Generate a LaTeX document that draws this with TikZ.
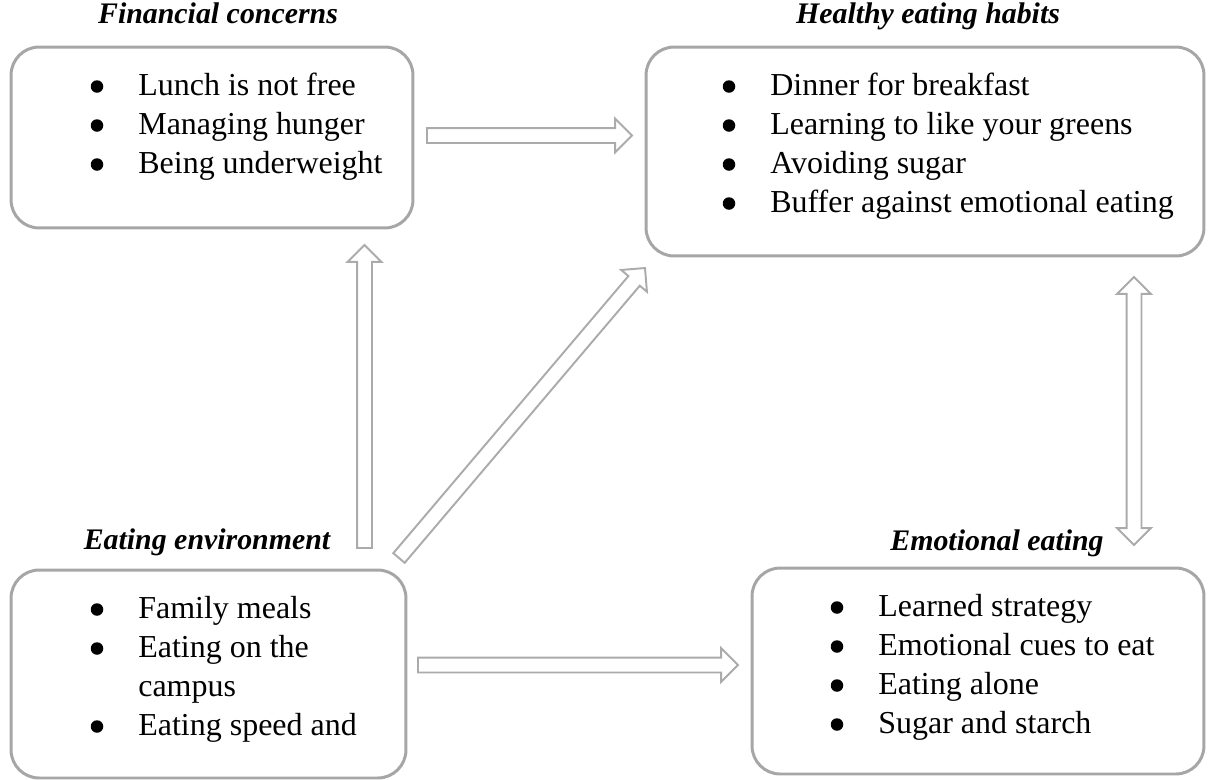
\documentclass[tikz,border=0pt]{standalone}
\usepackage{fontspec}
\setmainfont{Liberation Serif}
\usetikzlibrary{calc}

\definecolor{boxgray}{HTML}{A6A6A6}
\definecolor{arrgray}{HTML}{ABABAB}

\tikzset{
  box/.style={draw=boxgray, line width=1.7pt, rounded corners=16pt, inner sep=0pt, fill=white},
  heading/.style={font=\fontsize{17}{20}\selectfont\bfseries\itshape, inner sep=0pt, text height=0.68em, text depth=0pt, anchor=center},
  entry/.style={font=\fontsize{18.2}{22}\selectfont, inner sep=0pt, text height=0.66em, text depth=0pt, anchor=west},
  blockarr/.style={draw=arrgray, line width=1.1pt, fill=white, line join=miter}
}

% hollow block arrows between two named points
\newcommand{\onewayarrow}[2]{%
  \draw[blockarr] let \p1=(#1), \p2=(#2), \n1={atan2(\y2-\y1,\x2-\x1)}, \n2={veclen(\x2-\x1,\y2-\y1)} in
    [shift={(\p1)}, rotate=\n1]
    (0pt,-4.25pt) -- ({(\n2-9.6)*1pt},-4.25pt) -- ({(\n2-9.6)*1pt},-9.6pt) -- ({\n2*1pt},0pt)
    -- ({(\n2-9.6)*1pt},9.6pt) -- ({(\n2-9.6)*1pt},4.25pt) -- (0pt,4.25pt) -- cycle;}
\newcommand{\twowayarrow}[2]{%
  \draw[blockarr] let \p1=(#1), \p2=(#2), \n1={atan2(\y2-\y1,\x2-\x1)}, \n2={veclen(\x2-\x1,\y2-\y1)} in
    [shift={(\p1)}, rotate=\n1]
    (0pt,0pt) -- (9.6pt,9.6pt) -- (9.6pt,4.25pt) -- ({(\n2-9.6)*1pt},4.25pt) -- ({(\n2-9.6)*1pt},9.6pt)
    -- ({\n2*1pt},0pt) -- ({(\n2-9.6)*1pt},-9.6pt) -- ({(\n2-9.6)*1pt},-4.25pt) -- (9.6pt,-4.25pt)
    -- (9.6pt,-9.6pt) -- cycle;}

\begin{document}
\begin{tikzpicture}[x=0.02cm, y=-0.02cm]
    \useasboundingbox (0,0) rectangle (1208,779);

    % financial concerns
    \node[box, minimum width=8.04cm, minimum height=3.62cm] (fin) at (212,137.5) {};
    \node[heading] (finhead) at (218,18) {Financial concerns};
    \node[entry] (fin1) at (138,90) {Lunch is not free};
    \node[entry] (fin2) at (138,129) {Managing hunger};
    \node[entry] (fin3) at (138,168) {Being underweight};

    % healthy eating habits
    \node[box, minimum width=11.16cm, minimum height=4.18cm] (healthy) at (925,151.5) {};
    \node[heading] (healthyhead) at (928,18) {Healthy eating habits};
    \node[entry] (healthy1) at (770,90) {Dinner for breakfast};
    \node[entry] (healthy2) at (770,129) {Learning to like your greens};
    \node[entry] (healthy3) at (770,168) {Avoiding sugar};
    \node[entry] (healthy4) at (770,207) {Buffer against emotional eating};

    % eating environment
    \node[box, minimum width=7.9cm, minimum height=4.16cm] (env) at (208.5,674) {};
    \node[heading] (envhead) at (207,544) {Eating environment};
    \node[entry] (env1) at (138,613) {Family meals};
    \node[entry] (env2) at (138,652) {Eating on the};
    \node[entry] (env3) at (138,691) {campus};
    \node[entry] (env4) at (138,730) {Eating speed and};

    % emotional eating
    \node[box, minimum width=9.04cm, minimum height=4.12cm] (emo) at (978,671) {};
    \node[heading] (emohead) at (997,545) {Emotional eating};
    \node[entry] (emo1) at (878,611) {Learned strategy};
    \node[entry] (emo2) at (878,650) {Emotional cues to eat};
    \node[entry] (emo3) at (878,689) {Eating alone};
    \node[entry] (emo4) at (878,728) {Sugar and starch};

    % bullets
    \foreach \n in {fin1,fin2,fin3,healthy1,healthy2,healthy3,healthy4,env1,env2,env4,emo1,emo2,emo3,emo4}
        \fill ([shift={(-0.82cm,0.07cm)}]\n.west) circle (0.125cm);

    % arrow ends
    \coordinate (finout) at (427,135.5);
    \coordinate (healthyin) at (632,135.5);
    \coordinate (envup) at (364.5,548);
    \coordinate (finin) at (364.5,245);
    \coordinate (envdiag) at (399,558);
    \coordinate (healthydiag) at (645,268);
    \coordinate (envout) at (418,665);
    \coordinate (emoin) at (738,665);
    \coordinate (emotop) at (1134,545);
    \coordinate (healthybot) at (1134,277);

    \onewayarrow{finout}{healthyin}
    \onewayarrow{envup}{finin}
    \onewayarrow{envdiag}{healthydiag}
    \onewayarrow{envout}{emoin}
    \twowayarrow{emotop}{healthybot}

\end{tikzpicture}
\end{document}
